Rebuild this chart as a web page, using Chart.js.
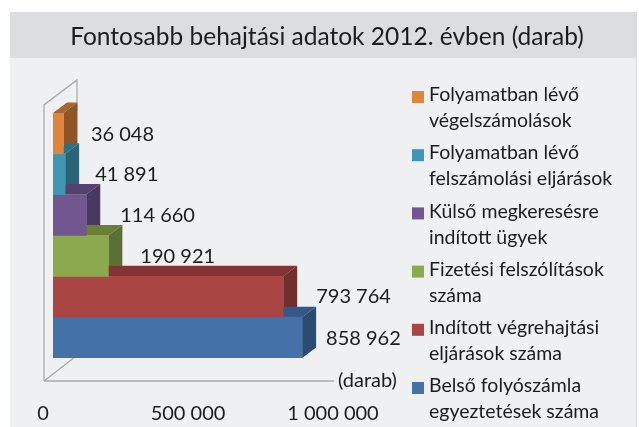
<!DOCTYPE html>
<html><head><meta charset="utf-8">
<style>html,body{margin:0;padding:0;background:#fff}#w{position:absolute;left:0;top:0;width:639px;height:427px}</style>
<script src="https://cdn.jsdelivr.net/npm/chart.js@4"></script></head>
<body><div id="w"><canvas id="c" width="639" height="427"></canvas></div>
<script>
const categories=["1"];
const seriesNames=[
 ["Folyamatban lévő","végelszámolások"],
 ["Folyamatban lévő","felszámolási eljárások"],
 ["Külső megkeresésre","indított ügyek"],
 ["Fizetési felszólítások","száma"],
 ["Indított végrehajtási","eljárások száma"],
 ["Belső folyószámla","egyeztetések száma"]];
const seriesValues=[36048,41891,114660,190921,793764,858962];
const valueLabels=["36 048","41 891","114 660","190 921","793 764","858 962"];
const frontColors=["#E0863C","#3F97B2","#71568F","#8CA94E","#A94643","#4472A8"];
const sideColors=["#8F5526","#2A6477","#493860","#5D7034","#702E2C","#2C4B70"];
const topColors=["#A8652E","#2F7086","#54416E","#6A8039","#823533","#345888"];
const tickLabels={0:"0",500000:"500 000",1000000:"1 000 000"};
const FONT='Lato, "Noto Sans", sans-serif', INK="#1c1c1c";
const DX=10, DEPTH_X=14, DEPTH_Y=10.5;
const panel={id:"panel",beforeDraw(ch){const g=ch.ctx;
 g.save();g.fillStyle="#EFF0F2";g.fillRect(10,12,627,415);
 g.fillStyle="#DCDDDF";g.fillRect(10,12,627,46);
 g.fillStyle="#D8D9DB";g.fillRect(636,12,1,415);g.restore();}};
const threeD={id:"threeD",
 beforeDatasetsDraw(ch){const g=ch.ctx,a=ch.chartArea;
  const L=a.left+1,B=a.bottom+23,T=a.top-8;
  g.save();g.strokeStyle="#A9ABAD";g.lineWidth=1.3;g.beginPath();
  g.moveTo(L,B);g.lineTo(L,T);g.lineTo(L+33,T-25);g.lineTo(L+33,T+6);g.stroke();
  g.beginPath();g.moveTo(L,B);g.lineTo(L+31,B-24);g.stroke();
  g.beginPath();g.moveTo(L,B);g.lineTo(a.right+1,B);g.stroke();g.restore();
  g.save();g.translate(DX,0);
  ch.data.datasets.forEach((d,i)=>{const m=ch.getDatasetMeta(i).data[0];
   const x0=m.base,x1=m.x,y0=m.y-m.height/2,y1=m.y+m.height/2;
   g.fillStyle=topColors[i];g.beginPath();g.moveTo(x0,y0);g.lineTo(x0+DEPTH_X,y0-DEPTH_Y);g.lineTo(x1+DEPTH_X,y0-DEPTH_Y);g.lineTo(x1,y0);g.fill();
   g.fillStyle=sideColors[i];g.beginPath();g.moveTo(x1,y0);g.lineTo(x1+DEPTH_X,y0-DEPTH_Y);g.lineTo(x1+DEPTH_X,y1-DEPTH_Y);g.lineTo(x1,y1);g.fill();
  });
 },
 afterDatasetsDraw(ch){const g=ch.ctx;g.restore();
  g.save();g.font='20px '+FONT;g.fillStyle=INK;g.textAlign="left";g.textBaseline="middle";
  const off=[[27.5,1],[30,0],[34,1],[32,1],[33,0],[24,1]];
  ch.data.datasets.forEach((d,i)=>{const m=ch.getDatasetMeta(i).data[0];
   g.fillText(valueLabels[i],m.x+DX+off[i][0],m.y+off[i][1]);});
  g.restore();}
};
const legend6={id:"legend6",afterDraw(ch){const g=ch.ctx;g.save();
 g.font='19.5px '+FONT;g.textBaseline="middle";g.textAlign="left";
 ch.data.datasets.forEach((d,i)=>{
  const y=95+58.2*i;
  g.fillStyle=frontColors[i];g.fillRect(412,y-4,12,12);
  g.fillStyle=INK;
  g.fillText(d.label[0],429,y);g.fillText(d.label[1],429,y+26);});
 g.font='20px '+FONT;g.fillText("(darab)",338,381);
 g.restore();}};
new Chart(document.getElementById("c"),{
 type:"bar",
 data:{labels:categories,datasets:seriesValues.map((v,i)=>({label:seriesNames[i],data:[v],backgroundColor:frontColors[i],borderWidth:0,barPercentage:1,categoryPercentage:1}))},
 plugins:[panel,threeD,legend6],
 options:{indexAxis:"y",responsive:false,animation:false,
  layout:{padding:{left:15,right:0,top:0,bottom:0}},
  plugins:{legend:{display:false},tooltip:{enabled:false},
   title:{display:true,text:"Fontosabb behajtási adatok 2012. évben (darab)",color:INK,font:{family:FONT,size:24.5,weight:"normal"},lineHeight:1,padding:{top:22,bottom:61.5}}},
  scales:{
   x:{min:0,max:1000000,position:"bottom",grid:{display:false},border:{display:false},
      afterFit(s){s.height=69;},
      ticks:{stepSize:500000,maxRotation:0,autoSkip:false,padding:36,color:INK,font:{family:FONT,size:20},callback:v=>tickLabels[v]}},
   y:{grid:{display:false},border:{display:false},
      afterFit(s){s.width=28;},
      ticks:{color:"#FFFFFF",font:{family:FONT,size:18},padding:24,labelOffset:7}},
   y2:{type:"linear",position:"right",grid:{display:false},border:{display:false},
      afterFit(s){s.width=306;},ticks:{display:false}}
  }}
});
</script></body></html>
